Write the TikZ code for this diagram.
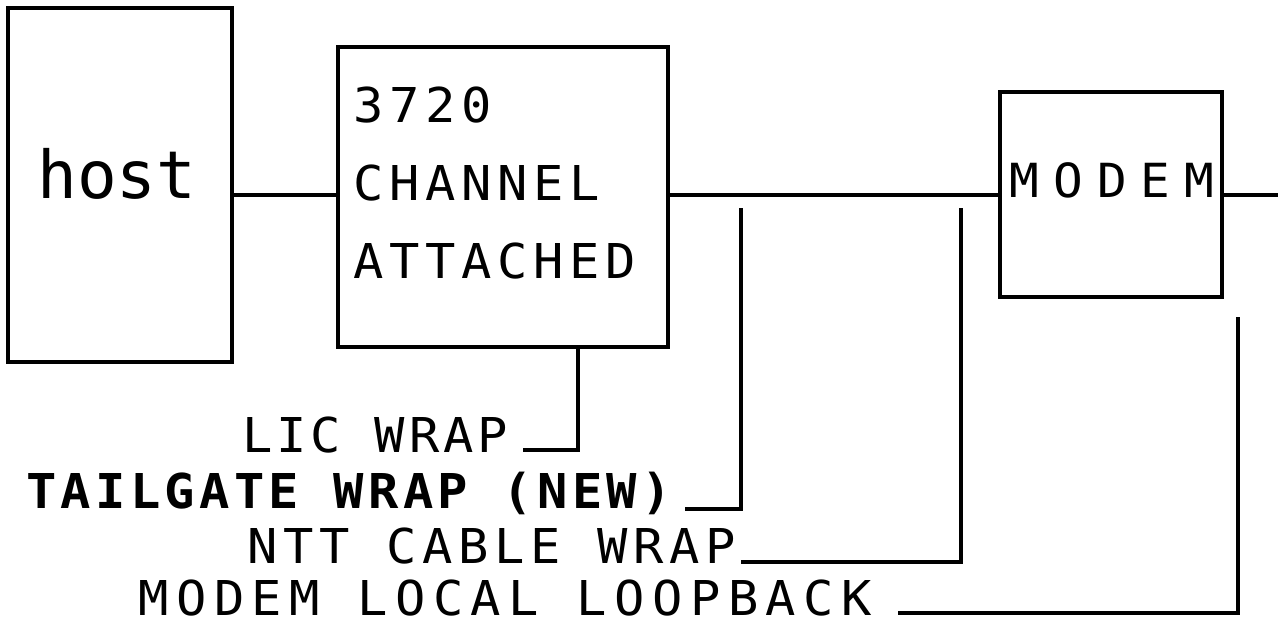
\documentclass[tikz,border=0pt]{standalone}
\usepackage{fontspec}
\usetikzlibrary{calc}
\newfontfamily\dotfont[FakeStretch=1.05,LetterSpace=12]{DejaVu Sans Mono}
\newfontfamily\hostfont{DejaVu Sans Mono}
\tikzset{
  box/.style={draw, line width=4pt, inner sep=0pt},
  wire/.style={line width=4pt},
  txt/.style={font=\dotfont\fontsize{48}{78}\selectfont, inner sep=0pt},
  lbl/.style={txt, anchor=base east},
}

\begin{document}
\begin{tikzpicture}[x=1pt,y=-1pt]
  \useasboundingbox (0,0) rectangle (1278,624);
  % units
  \node[box, minimum width=224pt, minimum height=354pt] (host) at (120,185) {};
  \node[box, minimum width=330pt, minimum height=300pt] (chan) at (503,197) {};
  \node[box, minimum width=222pt, minimum height=205pt] (modem) at (1111,194.5) {};
  \node[txt, anchor=base, font=\hostfont\fontsize{66}{66}\selectfont]
    (hosttxt) at (117,198) {host};
  \node[txt, anchor=base west, align=left] (chantxt) at (353,278) {3720\\CHANNEL\\ATTACHED};
  \node[txt, anchor=base, font=\dotfont\addfontfeatures{LetterSpace=30}\fontsize{47}{47}\selectfont]
    (modemtxt) at (1112,197) {MODEM};
  % test points
  \node[lbl, font=\dotfont\addfontfeatures{LetterSpace=8}\fontsize{48}{48}\selectfont]
    (lic) at (508,452) {LIC WRAP};
  \node[lbl, font=\dotfont\bfseries\addfontfeatures{LetterSpace=9}\fontsize{48}{48}\selectfont]
    (tail) at (672,508) {TAILGATE WRAP (NEW)};
  \node[lbl] (ntt) at (736,563) {NTT CABLE WRAP};
  \node[lbl, font=\dotfont\addfontfeatures{LetterSpace=15.5}\fontsize{48}{48}\selectfont]
    (loop) at (872,615) {MODEM LOCAL LOOPBACK};
  \coordinate (bus) at (0,195);
  \coordinate (edge) at (1278,195);
  \coordinate (tapL) at ($(chan.south)+(75,0)$);
  \coordinate (tapT) at (741,208);
  \coordinate (tapN) at (961,208);
  \coordinate (tapM) at ($(modem.south east)+(14,18)$);
  % line
  \draw[wire] (host.east |- bus) -- (chan.west |- bus);
  \draw[wire] (chan.east |- bus) -- (modem.west |- bus);
  \draw[wire] (modem.east |- bus) -- (edge);
  % wraps
  \draw[wire] ($(lic.base east)+(15,-2)$) -| (tapL);
  \draw[wire] ($(tail.base east)+(13,1)$) -| (tapT);
  \draw[wire] ($(ntt.base east)+(5,-1)$) -| (tapN);
  \draw[wire] ($(loop.base east)+(26,-2)$) -| (tapM);
\end{tikzpicture}
\end{document}
